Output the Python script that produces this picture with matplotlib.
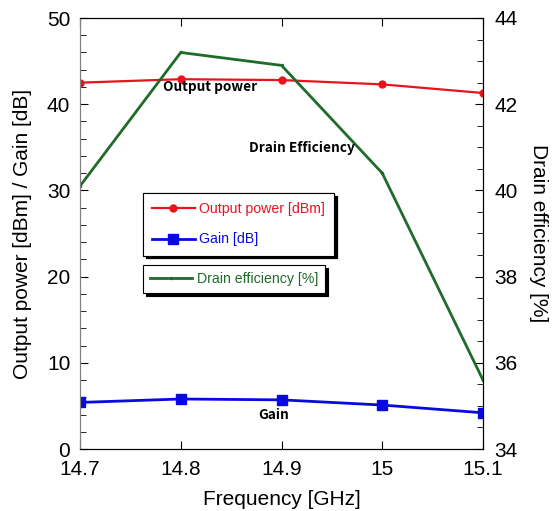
import numpy as np
import matplotlib.pyplot as plt

plt.rcParams['font.family'] = ['Liberation Sans', 'DejaVu Sans']

# 데이터
freq = [14.7, 14.8, 14.9, 15.0, 15.1]
output_power = [42.5, 42.9, 42.8, 42.3, 41.3]
gain = [5.4, 5.8, 5.7, 5.1, 4.2]
drain_eff = [40.1, 43.2, 42.9, 40.4, 35.6]

red = '#e8141c'
blue = '#0a0ae0'
green = '#1e6b2a'

fig = plt.figure(figsize=(5.53, 5.11), dpi=100)
ax = fig.add_axes([80 / 553, 62 / 511, 403 / 553, 431 / 511])
ax2 = ax.twinx()

l1, = ax.plot(freq, output_power, color=red, marker='o', ms=5, lw=1.6,
              label='Output power [dBm]')
l2, = ax.plot(freq, gain, color=blue, marker='s', ms=6.5, lw=2.0,
              label='Gain [dB]')
l3, = ax2.plot(freq, drain_eff, color=green, marker='.', ms=3, lw=2.0,
               label='Drain efficiency [%]')

ax.set_xlim(14.7, 15.1)
ax.set_ylim(0, 50)
ax2.set_ylim(34, 44)
ax.set_xticks(freq)
ax.set_xticklabels(['14.7', '14.8', '14.9', '15', '15.1'])
ax.set_yticks([0, 10, 20, 30, 40, 50])
ax.set_yticks(np.arange(0, 50, 2), minor=True)
ax2.set_yticks([34, 36, 38, 40, 42, 44])
ax2.set_yticks(np.arange(34, 44, 0.5), minor=True)

ax.tick_params(axis='both', which='both', direction='in', labelsize=15, top=True)
ax.tick_params(axis='x', which='both', pad=8)
ax.tick_params(axis='y', which='both', pad=7)
ax.tick_params(which='major', length=6)
ax.tick_params(which='minor', length=4)
ax2.tick_params(axis='y', which='both', direction='in', labelsize=15, pad=8)
ax2.tick_params(which='major', length=6)
ax2.tick_params(which='minor', length=4)
for a in (ax, ax2):
    a.spines['left'].set_color('#808080')

ax.set_xlabel('Frequency [GHz]', fontsize=15, labelpad=8)
ax.set_ylabel('Output power [dBm] / Gain [dB]', fontsize=15, labelpad=11)
ax2.set_ylabel('Drain efficiency [%]', fontsize=15, rotation=-90, labelpad=22)

# 주석
ann_font = ['Noto Sans CJK KR', 'DejaVu Sans']
ax.text(14.829, 42.0, 'Output power', fontsize=9.8, fontweight='bold',
        family=ann_font, ha='center', va='center')
ax2.text(14.92, 40.98, 'Drain Efficiency', fontsize=9.8, fontweight='bold',
         family=ann_font, ha='center', va='center')
ax.text(14.892, 4.0, 'Gain', fontsize=9.8, fontweight='bold',
        family=ann_font, ha='center', va='center')

# 범례 두 개
shadow = {'color': 'black', 'alpha': 1.0}
leg1 = ax.legend(handles=[l1, l2], loc='upper left', bbox_to_anchor=(0.156, 0.594),
                 fontsize=10.2, frameon=True, fancybox=False, shadow=shadow,
                 edgecolor='black', framealpha=1, handlelength=3, handletextpad=0.3,
                 borderpad=0.65, labelspacing=1.15, borderaxespad=0)
leg1.get_frame().set_linewidth(0.8)
for t, c in zip(leg1.get_texts(), [red, blue]):
    t.set_color(c)
ax.add_artist(leg1)
leg2 = ax2.legend(handles=[l3], loc='upper left', bbox_to_anchor=(0.156, 0.427),
                  fontsize=10.2, frameon=True, fancybox=False, shadow=shadow,
                  edgecolor='black', framealpha=1, handlelength=3, handletextpad=0.3,
                  borderpad=0.5, borderaxespad=0)
leg2.get_frame().set_linewidth(0.8)
leg2.get_texts()[0].set_color(green)

fig.savefig('out.png', dpi=100)
